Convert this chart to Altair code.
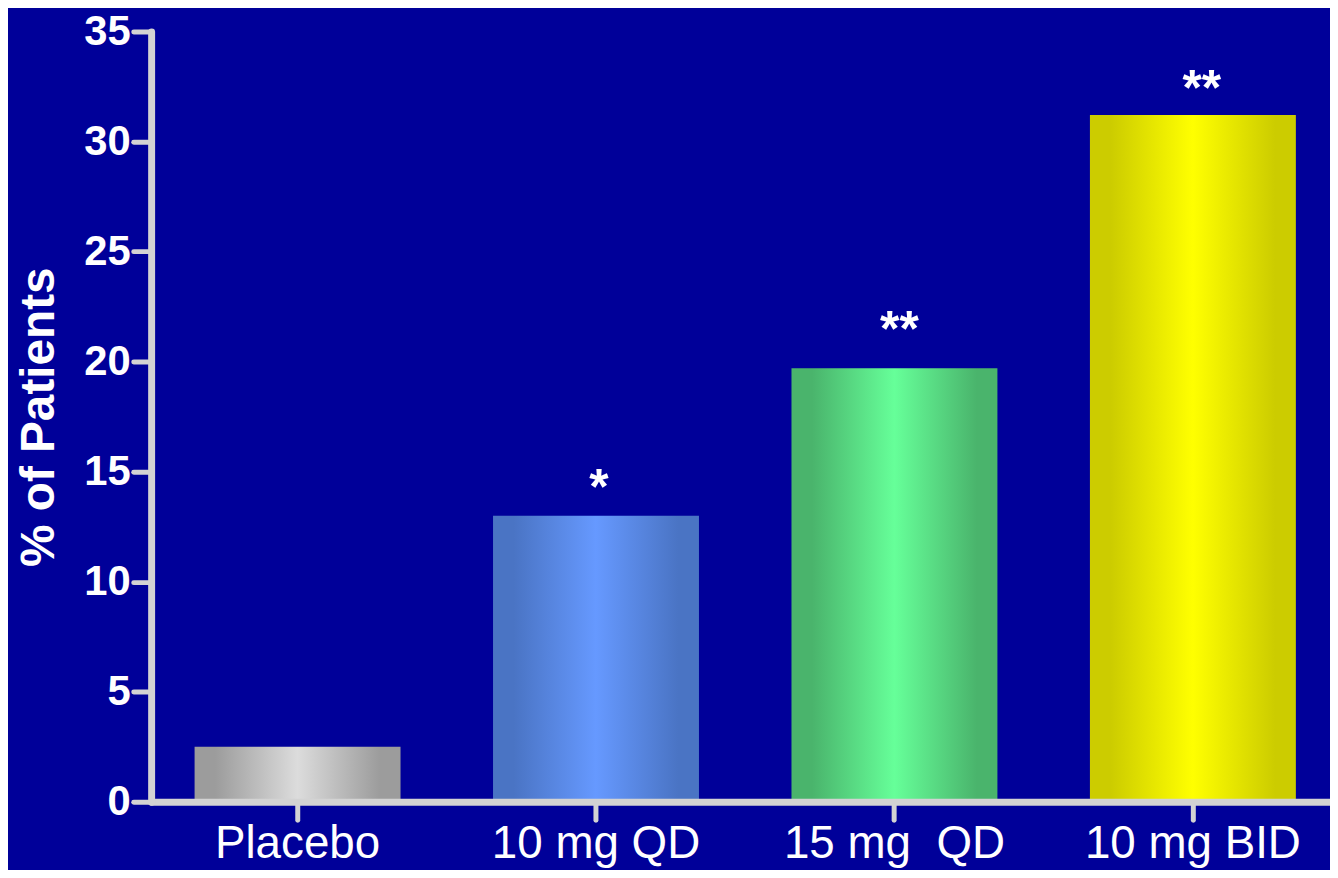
import altair as alt
import pandas as pd

# ---- data ----
categories = ["Placebo", "10 mg QD", "15 mg\u00a0 QD", "10 mg BID"]
percent_patients = [2.5, 13.0, 19.7, 31.2]
significance = ["", "*", "**", "**"]
y_ticks = [0, 5, 10, 15, 20, 25, 30, 35]

# ---- styles ----
edge_colors = ["#9c9c9c", "#4a74c4", "#4ab46c", "#cccc00"]
center_colors = ["#dcdcdc", "#6699ff", "#66ff99", "#ffff00"]
star_dy = [0, -12, -22, -10]
star_dx = [0, 3, 5, 9]

FONT = "Liberation Sans"
AXIS_GRAY = "#d3d3d3"

df = pd.DataFrame({"group": categories, "pct": percent_patients, "sig": significance})

x_enc = alt.X(
    "group:N",
    sort=categories,
    scale=alt.Scale(paddingInner=0.31, paddingOuter=0.13, align=0.56),
    axis=alt.Axis(
        title=None,
        labelAngle=0,
        labelFont=FONT,
        labelFontSize=46,
        labelFontWeight="normal",
        labelColor="white",
        labelPadding=2,
        labelOverlap=False,
        labelLimit=0,
        tickSize=18,
        tickWidth=5,
        tickColor=AXIS_GRAY,
        tickCap="round",
        domainWidth=7,
        domainColor=AXIS_GRAY,
        domainCap="round",
        zindex=1,
    ),
)
y_enc = alt.Y(
    "pct:Q",
    scale=alt.Scale(domain=[0, 35], nice=False, zero=True),
    axis=alt.Axis(
        title="% of Patients",
        values=y_ticks,
        grid=False,
        labelFont=FONT,
        labelFontSize=42,
        labelFontWeight="bold",
        labelColor="white",
        labelPadding=3,
        tickSize=18,
        tickWidth=5,
        tickColor=AXIS_GRAY,
        tickCap="round",
        domainWidth=7,
        domainColor=AXIS_GRAY,
        domainCap="round",
        titleFont=FONT,
        titleFontSize=48,
        titleFontWeight="bold",
        titleColor="white",
        titlePadding=21,
        zindex=1,
    ),
)

base = alt.Chart(df)
layers = []
for i, cat in enumerate(categories):
    grad = alt.LinearGradient(
        gradient="linear",
        stops=[
            alt.GradientStop(offset=0.0, color=edge_colors[i]),
            alt.GradientStop(offset=0.1, color=edge_colors[i]),
            alt.GradientStop(offset=0.5, color=center_colors[i]),
            alt.GradientStop(offset=0.9, color=edge_colors[i]),
            alt.GradientStop(offset=1.0, color=edge_colors[i]),
        ],
        x1=0, x2=1, y1=0, y2=0,
    )
    bar = base.transform_filter(alt.datum.group == cat).mark_bar(
        color=grad
    ).encode(x=x_enc, y=y_enc)
    layers.append(bar)

for i, cat in enumerate(categories):
    if significance[i]:
        txt = base.transform_filter(alt.datum.group == cat).mark_text(
            font=FONT, fontSize=50, fontWeight="bold", color="white",
            baseline="alphabetic", align="center", dy=star_dy[i], dx=star_dx[i],
        ).encode(x=x_enc, y=y_enc, text="sig:N")
        layers.append(txt)

chart = alt.layer(*layers).properties(
    width=1186,
    height=775,
    autosize="none",
    padding={"left": 144, "top": 21, "right": 0, "bottom": 66},
    background="#000099",
).configure_view(stroke=None)

chart.save("out.html", embed_options={"renderer": "svg", "actions": False})
